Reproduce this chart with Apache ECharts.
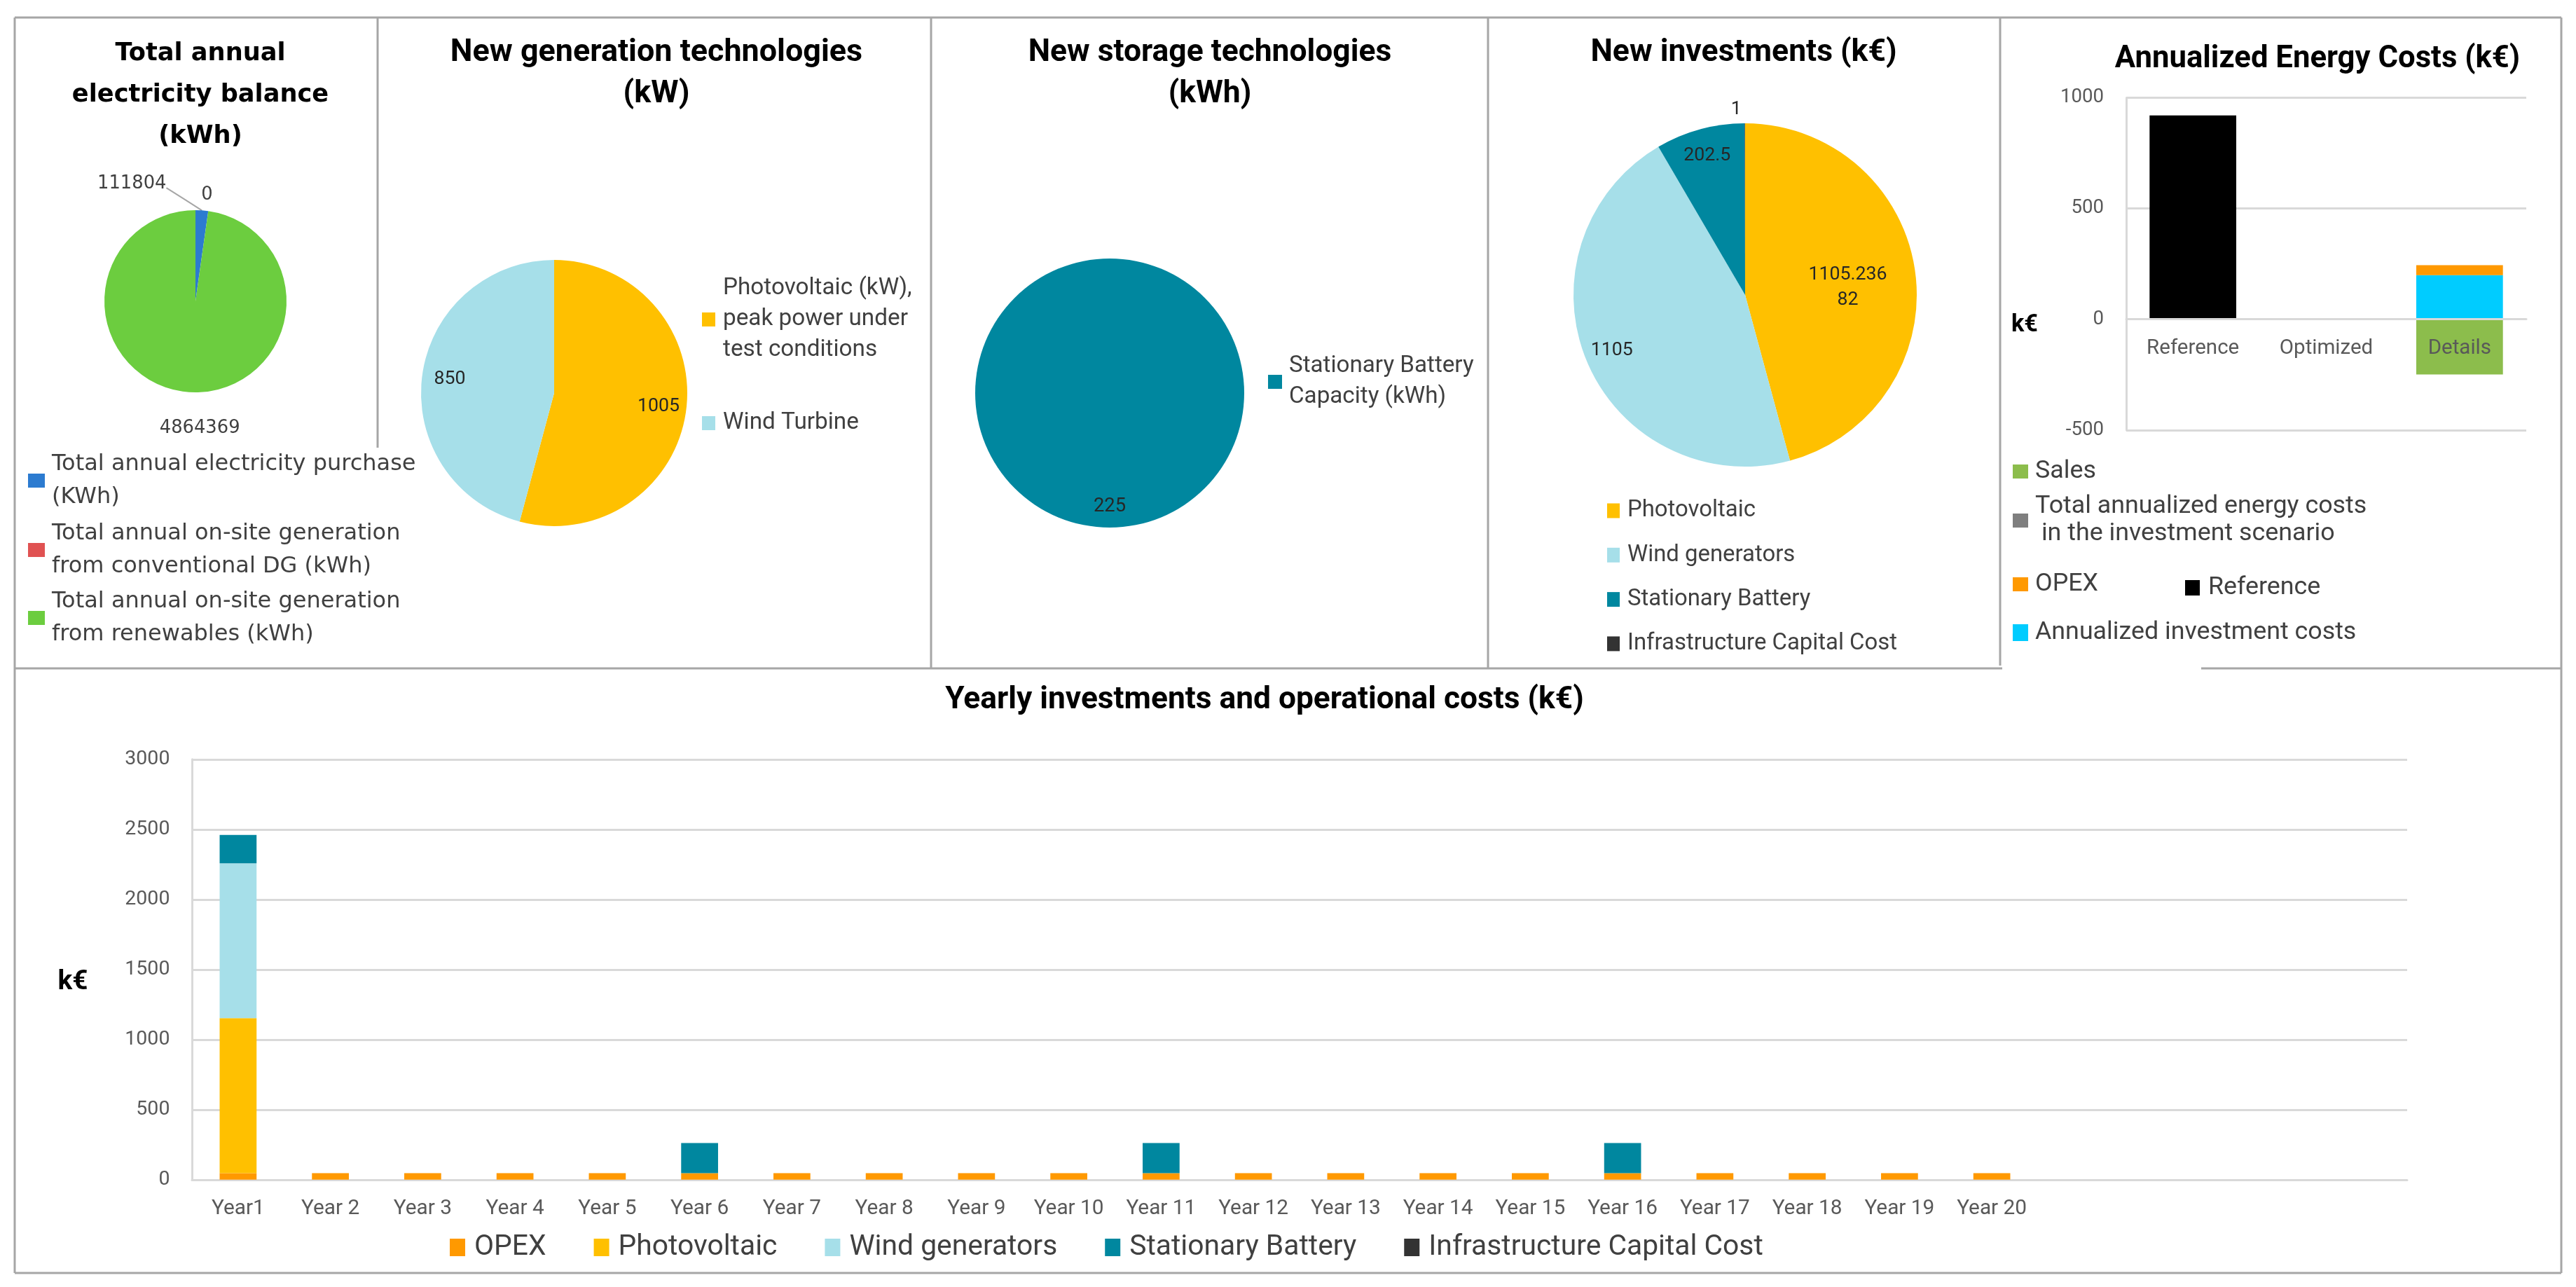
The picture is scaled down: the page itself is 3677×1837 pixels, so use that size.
<!DOCTYPE html>
<html><head><meta charset="utf-8">
<script src="https://cdn.jsdelivr.net/npm/echarts@6/dist/echarts.min.js"></script>
<style>html,body{margin:0;padding:0;background:#fff}#c{width:3677px;height:1837px}</style>
</head><body><div id="c"></div>
<script>
// ---------------- data ----------------
const balanceNames = ['Total annual electricity purchase (KWh)', 'Total annual on-site generation from conventional DG (kWh)', 'Total annual on-site generation from renewables (kWh)'];
const balanceValues = [111804, 0, 4864369];

const genNames = ['Photovoltaic (kW), peak power under test conditions', 'Wind Turbine'];
const genValues = [1005, 850];

const storageNames = ['Stationary Battery Capacity (kWh)'];
const storageValues = [225];

const investNames = ['Photovoltaic', 'Wind generators', 'Stationary Battery', 'Infrastructure Capital Cost'];
const investValues = [1105.23682, 1105, 202.5, 1];

const costCategories = ['Reference', 'Optimized', 'Details'];
const costAnnualizedInvestment = [0, 0, 199];
const costOpex = [0, 0, 45];
const costReference = [920, 0, 0];
const costTotalInvestment = [0, 0, 0];
const costSales = [0, 0, -249];
const costTicks = [-500, 0, 500, 1000];

const yearCategories = ['Year1', 'Year 2', 'Year 3', 'Year 4', 'Year 5', 'Year 6', 'Year 7', 'Year 8', 'Year 9', 'Year 10',
  'Year 11', 'Year 12', 'Year 13', 'Year 14', 'Year 15', 'Year 16', 'Year 17', 'Year 18', 'Year 19', 'Year 20', '', '', '', ''];
const yearOpex = [47, 47, 47, 47, 47, 47, 47, 47, 47, 47, 47, 47, 47, 47, 47, 47, 47, 47, 47, 47];
const yearPV = [1105.23682, 0, 0, 0, 0, 0, 0, 0, 0, 0, 0, 0, 0, 0, 0, 0, 0, 0, 0, 0];
const yearWind = [1105, 0, 0, 0, 0, 0, 0, 0, 0, 0, 0, 0, 0, 0, 0, 0, 0, 0, 0, 0];
const yearBattery = [202.5, 0, 0, 0, 0, 215, 0, 0, 0, 0, 215, 0, 0, 0, 0, 215, 0, 0, 0, 0];
const yearInfra = [1, 0, 0, 0, 0, 0, 0, 0, 0, 0, 0, 0, 0, 0, 0, 0, 0, 0, 0, 0];
const yearTicks = [0, 500, 1000, 1500, 2000, 2500, 3000];

// ---------------- styling ----------------
const FR = 'Roboto', FD = 'DejaVu Sans';
const TXT = '#404040', AX = '#595959', GRID = '#d9d9d9', BORDER = '#a6a6a6';
const C = { blue: '#2c7bd0', red: '#e05252', green: '#6ccd3f', pv: '#ffc000', wind: '#a6dfe9', teal: '#00879f',
  infra: '#333333', opex: '#ff9900', cyan: '#00ccff', sales: '#8cbd4c', grey: '#7f7f7f', black: '#000000' };

const mctx = document.createElement('canvas').getContext('2d');
function fit(text, width, family, weight) {
  mctx.font = (weight || 'normal') + ' 100px ' + family;
  return +(100 * width / mctx.measureText(text).width).toFixed(1);
}
function measure(text, size, family, weight) {
  mctx.font = (weight || 'normal') + ' ' + size + 'px ' + family;
  return mctx.measureText(text).width;
}
const S = {
  t1: fit('electricity balance', 366, FD, 'bold'),
  l1: fit('Total annual electricity purchase', 519, FD),
  v1: fit('4864369', 115, FD),
  t2: fit('New generation technologies', 589, FR, 'bold'),
  l2: fit('Photovoltaic (kW),', 270, FR),
  v2: fit('1005', 60, FR),
  t3: fit('New storage technologies', 519, FR, 'bold'),
  l3: fit('Stationary Battery', 264, FR),
  v3: fit('225', 46, FR),
  t4: fit('New investments (k€)', 437, FR, 'bold'),
  l4: fit('Infrastructure Capital Cost', 385, FR),
  v4: fit('1105.236', 112, FR),
  t5: fit('Annualized Energy Costs (k€)', 578, FR, 'bold'),
  a5: fit('1000', 62, FR),
  c5: fit('Reference', 132, FR),
  l5: fit('Annualized investment costs', 458, FR),
  k5: fit('k€', 38, FR, 'bold'),
  t6: fit('Yearly investments and operational costs (k€)', 911, FR, 'bold'),
  a6: fit('3000', 64, FR),
  c6: fit('Year 10', 100, FR),
  l6: fit('Infrastructure Capital Cost', 478, FR),
  k6: fit('k€', 43, FR, 'bold')
};

const WRAP = {
  'Total annual electricity purchase (KWh)': 'Total annual electricity purchase\n(KWh)',
  'Total annual on-site generation from conventional DG (kWh)': 'Total annual on-site generation\nfrom conventional DG (kWh)',
  'Total annual on-site generation from renewables (kWh)': 'Total annual on-site generation\nfrom renewables (kWh)',
  'Photovoltaic (kW), peak power under test conditions': 'Photovoltaic (kW),\npeak power under\ntest conditions',
  'Stationary Battery Capacity (kWh)': 'Stationary Battery\nCapacity (kWh)',
  'Total annualized energy costs in the investment scenario': 'Total annualized energy costs\n in the investment scenario'
};
const wrapFmt = n => WRAP[n] || n;

function ttl(text, cx, firstCenter, size, lh, family) {
  return { text, left: cx, top: firstCenter - lh / 2, textAlign: 'center', textVerticalAlign: 'top', padding: 0,
    textStyle: { fontFamily: family, fontWeight: 'bold', fontSize: size, lineHeight: lh, color: '#000' } };
}
// legend whose icon is aligned with the first text line
function leg(names, left, firstCenter, o) {
  const lines = o.lines || 1, L = o.lh;
  const itemH = Math.max(o.ih, (2 * lines - 1) * L);
  return { data: names, left, top: firstCenter - itemH / 2, orient: o.orient || 'vertical', padding: 0,
    icon: 'rect', itemWidth: o.iw, itemHeight: o.ih, itemGap: o.gap != null ? o.gap : 10, selectedMode: false,
    formatter: wrapFmt,
    textStyle: { fontFamily: o.family || FR, fontSize: o.size, lineHeight: L, color: TXT,
      padding: [(lines - 1) * L, 0, 0, o.pad || 0] } };
}

function pieData(names, values, colors, extra) {
  return names.map((n, i) => Object.assign({ name: n, value: values[i], itemStyle: { color: colors[i] } }, (extra && extra[i]) || {}));
}
function labelRing(center, r, inner, names, values, size, extra) {
  return { type: 'pie', center, radius: [r * inner, r], startAngle: 90, clockwise: true, silent: true,
    avoidLabelOverlap: false, legendHoverLink: false, emphasis: { disabled: true }, z: 3,
    data: names.map((n, i) => Object.assign({ name: n, value: values[i], itemStyle: { color: 'rgba(0,0,0,0)' } }, (extra && extra[i]) || {})),
    label: { show: true, position: 'inside', formatter: '{c}', color: '#262626', fontFamily: FR, fontSize: size },
    labelLine: { show: false } };
}

const borderLines = [[21, 25, 3656, 25], [21, 25, 21, 1817], [3656, 25, 3656, 1817], [21, 1817, 3656, 1817],
  [539, 25, 539, 639], [1329, 25, 1329, 954], [2124, 25, 2124, 954], [2855, 25, 2855, 950],
  [21, 954, 2858, 954], [3142, 954, 3656, 954]];

const lh5 = Math.round(S.c5 * 1.2), lh6 = Math.round(S.c6 * 1.2);
const pvLabelW = Math.ceil(measure('1105.236', S.v4, FR)) + 3;
const grid5H = 474.5;
// x axis of the cost chart sits on the zero line of its value axis
const zeroOffset5 = -grid5H * (0 - costTicks[0]) / (costTicks[costTicks.length - 1] - costTicks[0]);
const plain = v => String(v);

function kTitle(cx, cy, size) {
  const lh = Math.round(size * 1.2);
  return { text: 'k€', left: cx, top: cy - lh / 2, textAlign: 'center', textVerticalAlign: 'top', padding: 0,
    textStyle: { fontFamily: FR, fontWeight: 'bold', fontSize: size, lineHeight: lh, color: '#000' } };
}

const option = {
  animation: false,
  backgroundColor: '#ffffff',
  textStyle: { fontFamily: FR },
  title: [
    ttl('Total annual\nelectricity balance\n(kWh)', 286, 77, S.t1, 59, FD),
    ttl('New generation technologies\n(kW)', 937, 76, S.t2, 59, FR),
    ttl('New storage technologies\n(kWh)', 1727, 76, S.t3, 59, FR),
    ttl('New investments (k€)', 2489, 76, S.t4, 59, FR),
    ttl('Annualized Energy Costs (k€)', 3308, 85, S.t5, 59, FR),
    ttl('Yearly investments and operational costs (k€)', 1805, 1000, S.t6, 59, FR),
    kTitle(2890, 464, S.k5),
    kTitle(104, 1402, S.k6)
  ],
  legend: [
    leg([balanceNames[0]], 40, 686, { lines: 2, lh: 47, iw: 24, ih: 20, size: S.l1, family: FD, pad: 5 }),
    leg([balanceNames[1]], 40, 785, { lines: 2, lh: 47, iw: 24, ih: 20, size: S.l1, family: FD, pad: 5 }),
    leg([balanceNames[2]], 40, 882, { lines: 2, lh: 47, iw: 24, ih: 20, size: S.l1, family: FD, pad: 5 }),
    leg([genNames[0]], 1002, 456, { lines: 3, lh: 44, iw: 19, ih: 20, size: S.l2, pad: 6 }),
    leg([genNames[1]], 1002, 604, { lines: 1, lh: 44, iw: 19, ih: 20, size: S.l2, pad: 6 }),
    leg([storageNames[0]], 1810, 545, { lines: 2, lh: 44, iw: 20, ih: 20, size: S.l3, pad: 5 }),
    leg(investNames, 2294, 729, { lines: 1, lh: 36, iw: 18, ih: 21, size: S.l4, pad: 6, gap: 63.3 - 36 }),
    leg(['Sales'], 2873, 673, { lines: 1, lh: 39, iw: 22, ih: 20, size: S.l5, pad: 5 }),
    leg(['Total annualized energy costs in the investment scenario'], 2873, 743, { lines: 2, lh: 39, iw: 22, ih: 20, size: S.l5, pad: 5 }),
    leg(['OPEX'], 2873, 834, { lines: 1, lh: 39, iw: 22, ih: 20, size: S.l5, pad: 5 }),
    leg(['Reference'], 3119, 839, { lines: 1, lh: 39, iw: 21, ih: 22, size: S.l5, pad: 7 }),
    leg(['Annualized investment costs'], 2873, 903, { lines: 1, lh: 39, iw: 22, ih: 24, size: S.l5, pad: 5 }),
    leg(['OPEX', 'Photovoltaic', 'Wind generators', 'Stationary Battery', 'Infrastructure Capital Cost'], 642, 1780,
      { orient: 'horizontal', lines: 1, lh: 40, iw: 22, ih: 25, size: S.l6, pad: 8, gap: 68 })
  ],
  grid: [
    { left: 3035, top: 139.4, width: 571, height: grid5H, outerBoundsMode: 'none' },
    { left: 274, top: 1083.8, width: 3162, height: 600, outerBoundsMode: 'none' }
  ],
  xAxis: [
    { type: 'category', gridIndex: 0, data: costCategories, z: 5, position: 'bottom', offset: zeroOffset5,
      axisLine: { onZero: false, lineStyle: { color: GRID, width: 3 } }, axisTick: { show: false },
      axisLabel: { interval: 0, color: AX, fontFamily: FR, fontSize: S.c5, lineHeight: lh5, margin: 42.3 - lh5 / 2 } },
    { type: 'category', gridIndex: 1, data: yearCategories,
      axisLine: { lineStyle: { color: GRID, width: 3 } }, axisTick: { show: false },
      axisLabel: { interval: 0, color: AX, fontFamily: FR, fontSize: S.c6, lineHeight: lh6, margin: 41.6 - lh6 / 2 } }
  ],
  yAxis: [
    { type: 'value', gridIndex: 0, min: costTicks[0], max: costTicks[costTicks.length - 1], interval: 500,
      axisLine: { show: true, lineStyle: { color: GRID, width: 3 } }, axisTick: { show: false },
      splitLine: { lineStyle: { color: GRID, width: 3 } },
      axisLabel: { color: AX, fontFamily: FR, fontSize: S.a5, margin: 32, formatter: plain } },
    { type: 'value', gridIndex: 1, min: yearTicks[0], max: yearTicks[yearTicks.length - 1], interval: 500,
      axisLine: { show: true, lineStyle: { color: GRID, width: 3 } }, axisTick: { show: false },
      splitLine: { lineStyle: { color: GRID, width: 3 } },
      axisLabel: { color: AX, fontFamily: FR, fontSize: S.a6, margin: 31.6, formatter: plain } }
  ],
  graphic: { elements: borderLines.map(([x1, y1, x2, y2]) => ({ type: 'line', silent: true, z: 0,
    shape: { x1, y1, x2, y2 }, style: { stroke: BORDER, lineWidth: 3 } })) },
  series: [
    // panel 1: electricity balance
    { type: 'pie', center: [279, 430], radius: 130, startAngle: 90, clockwise: true, avoidLabelOverlap: false,
      emphasis: { disabled: true },
      data: pieData(balanceNames, balanceValues, [C.blue, C.red, C.green], [
        { labelLine: { show: true, length: 15, length2: 10 } },
        { labelLine: { show: false, length: 23, length2: 0 } },
        { labelLine: { show: false, length: 52, length2: 0 } }]),
      label: { show: true, position: 'outside', formatter: '{c}', color: TXT, fontFamily: FD, fontSize: S.v1 },
      labelLine: { lineStyle: { color: '#a6a6a6', width: 2 } },
      labelLayout: function (p) {
        if (p.dataIndex === 0) {
          const dx = -116, dy = -23;
          const out = { align: 'center', dx, dy };
          if (p.labelLinePoints && p.labelLinePoints.length) {
            const s = p.labelLinePoints[0];
            const e = [p.labelRect.x + dx + p.labelRect.width / 2, p.labelRect.y + dy + p.labelRect.height * 0.72];
            out.labelLinePoints = [[s[0], s[1]], [(s[0] + e[0]) / 2, (s[1] + e[1]) / 2], e];
          }
          return out;
        }
        if (p.dataIndex === 1) return { align: 'center', dx: -10 };
        return { align: 'center', dx: 24 };
      } },
    // panel 2: generation
    { type: 'pie', center: [791, 561], radius: 190, startAngle: 90, clockwise: true, emphasis: { disabled: true },
      data: pieData(genNames, genValues, [C.pv, C.wind]), label: { show: false }, labelLine: { show: false } },
    labelRing([791, 561], 190, 0.55, genNames, genValues, S.v2),
    // panel 3: storage
    { type: 'pie', center: [1584, 561], radius: 192, startAngle: 90, clockwise: true, emphasis: { disabled: true },
      data: pieData(storageNames, storageValues, [C.teal]), label: { show: false }, labelLine: { show: false } },
    labelRing([1584, 561], 192, 0.66, storageNames, storageValues, S.v3),
    // panel 4: investments
    { type: 'pie', center: [2491, 421], radius: 245, startAngle: 90, clockwise: true, emphasis: { disabled: true },
      data: pieData(investNames, investValues, [C.pv, C.wind, C.teal, C.infra], [
        { label: { show: true, position: 'inside', formatter: '{c}', color: '#262626', fontFamily: FR, fontSize: S.v4,
          lineHeight: 36, width: pvLabelW, overflow: 'breakAll', align: 'center' } }]),
      label: { show: false }, labelLine: { show: false },
      labelLayout: function (p) { return p.dataIndex === 0 ? { dx: 22, dy: 6 } : {}; } },
    labelRing([2491, 421], 245, 0.66, investNames, investValues, S.v4, [
      { label: { show: false } }, {}, {},
      { label: { position: 'outside' }, labelLine: { show: false, length: 20, length2: 0 } }]),
    // panel 5: annualized energy costs
    { type: 'bar', name: 'Annualized investment costs', xAxisIndex: 0, yAxisIndex: 0, stack: 'cost', barWidth: '65%',
      data: costAnnualizedInvestment, itemStyle: { color: C.cyan }, emphasis: { disabled: true } },
    { type: 'bar', name: 'OPEX', xAxisIndex: 0, yAxisIndex: 0, stack: 'cost', barWidth: '65%',
      data: costOpex, itemStyle: { color: C.opex }, emphasis: { disabled: true } },
    { type: 'bar', name: 'Reference', xAxisIndex: 0, yAxisIndex: 0, stack: 'cost', barWidth: '65%',
      data: costReference, itemStyle: { color: C.black }, emphasis: { disabled: true } },
    { type: 'bar', name: 'Total annualized energy costs in the investment scenario', xAxisIndex: 0, yAxisIndex: 0, stack: 'cost', barWidth: '65%',
      data: costTotalInvestment, itemStyle: { color: C.grey }, emphasis: { disabled: true } },
    { type: 'bar', name: 'Sales', xAxisIndex: 0, yAxisIndex: 0, stack: 'cost', barWidth: '65%',
      data: costSales, itemStyle: { color: C.sales }, emphasis: { disabled: true } },
    // bottom: yearly costs
    { type: 'bar', name: 'OPEX', xAxisIndex: 1, yAxisIndex: 1, stack: 'year', barWidth: '40%',
      data: yearOpex, itemStyle: { color: C.opex }, emphasis: { disabled: true } },
    { type: 'bar', name: 'Photovoltaic', xAxisIndex: 1, yAxisIndex: 1, stack: 'year', barWidth: '40%',
      data: yearPV, itemStyle: { color: C.pv }, emphasis: { disabled: true } },
    { type: 'bar', name: 'Wind generators', xAxisIndex: 1, yAxisIndex: 1, stack: 'year', barWidth: '40%',
      data: yearWind, itemStyle: { color: C.wind }, emphasis: { disabled: true } },
    { type: 'bar', name: 'Stationary Battery', xAxisIndex: 1, yAxisIndex: 1, stack: 'year', barWidth: '40%',
      data: yearBattery, itemStyle: { color: C.teal }, emphasis: { disabled: true } },
    { type: 'bar', name: 'Infrastructure Capital Cost', xAxisIndex: 1, yAxisIndex: 1, stack: 'year', barWidth: '40%',
      data: yearInfra, itemStyle: { color: C.infra }, emphasis: { disabled: true } }
  ]
};

const chart = echarts.init(document.getElementById('c'), null, { renderer: 'canvas', width: 3677, height: 1837 });
chart.setOption(option);
</script>
</body></html>
